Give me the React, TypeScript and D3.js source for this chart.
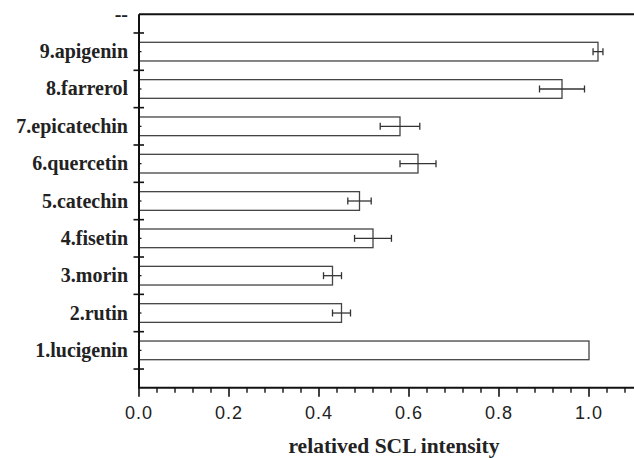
import React from 'react';
import * as d3 from 'd3';

// compounds from bottom (1) to top (9)
const compounds = ['1.lucigenin', '2.rutin', '3.morin', '4.fisetin', '5.catechin', '6.quercetin', '7.epicatechin', '8.farrerol', '9.apigenin'];
const intensity = [1.0, 0.45, 0.43, 0.52, 0.49, 0.62, 0.58, 0.94, 1.02];
const errors = [0, 0.02, 0.02, 0.041, 0.026, 0.04, 0.044, 0.05, 0.011];
const xTicks = [0, 0.2, 0.4, 0.6, 0.8, 1.0];

const W = 634;
const H = 458;
const margin = { top: 14.3, left: 139, bottom: 70.3 };
const serif = { fontFamily: '"Times New Roman", "Liberation Serif", "DejaVu Serif", serif', fontWeight: 700 };

const App = () => {
  const x = d3.scaleLinear().domain([0, 1.1]).range([margin.left, W]);
  const y = d3.scaleLinear().domain([0, 10]).range([H - margin.bottom, margin.top]);
  const barH = y(0) - y(0.5);

  const minorX = d3.range(0, 1.1001, 0.04).filter(v => !xTicks.some(t => Math.abs(t - v) < 1e-6));
  const majorY = d3.range(0.5, 10, 1);
  const minorY = d3.range(1, 10, 1);

  return (
    <svg width={W} height={H} style={{ position: 'absolute', left: 0, top: 0, background: '#fff' }}>
      {/* bars */}
      {intensity.map((v, i) => (
        <rect key={i} x={x(0)} y={y(i + 1) - barH / 2} width={x(v) - x(0)} height={barH}
          fill="#fff" stroke="#444" strokeWidth={1.3} />
      ))}
      {/* error bars */}
      {intensity.map((v, i) => errors[i] > 0 && (
        <g key={i} stroke="#333" strokeWidth={1.3}>
          <line x1={x(v - errors[i])} x2={x(v + errors[i])} y1={y(i + 1)} y2={y(i + 1)} />
          <line x1={x(v - errors[i])} x2={x(v - errors[i])} y1={y(i + 1) - 3.5} y2={y(i + 1) + 3.5} />
          <line x1={x(v + errors[i])} x2={x(v + errors[i])} y1={y(i + 1) - 3.5} y2={y(i + 1) + 3.5} />
        </g>
      ))}
      {/* frame */}
      <line x1={x(0)} x2={W} y1={y(10)} y2={y(10)} stroke="#111" strokeWidth={2} />
      <line x1={x(0)} x2={W} y1={y(0)} y2={y(0)} stroke="#111" strokeWidth={2} />
      <line x1={x(0)} x2={x(0)} y1={y(10)} y2={y(0) + 1} stroke="#111" strokeWidth={2} />
      {/* x ticks */}
      {xTicks.map(t => (
        <g key={t}>
          <line x1={x(t)} x2={x(t)} y1={y(0)} y2={y(0) + 9} stroke="#111" strokeWidth={1.6} />
          <text x={x(t)} y={419} textAnchor="middle" style={{ fontFamily: '"Liberation Sans", Arial, sans-serif' }}
            fontSize={18} letterSpacing={1} fill="#222">{t.toFixed(1)}</text>
        </g>
      ))}
      {minorX.map(t => (
        <line key={t} x1={x(t)} x2={x(t)} y1={y(0)} y2={y(0) + 5} stroke="#111" strokeWidth={1.4} />
      ))}
      {/* y ticks */}
      {majorY.map(t => (
        <line key={t} x1={x(0) - 5.5} x2={x(0) + 5} y1={y(t)} y2={y(t)} stroke="#111" strokeWidth={1.6} />
      ))}
      {minorY.map(t => (
        <line key={t} x1={x(0)} x2={x(0) + 2.5} y1={y(t)} y2={y(t)} stroke="#111" strokeWidth={1.2} />
      ))}
      {/* category labels */}
      {compounds.map((c, i) => (
        <text key={c} x={128} y={y(i + 1) + 6.5} textAnchor="end" style={serif}
          fontSize={20} fill="#222">{c}</text>
      ))}
      <text x={128} y={y(10) + 6.5} textAnchor="end" style={serif} fontSize={20} fill="#222">--</text>
      {/* axis title */}
      <text x={394} y={453} textAnchor="middle" style={serif} fontSize={21.5} fill="#222">relatived SCL intensity</text>
    </svg>
  );
};

export default App;
